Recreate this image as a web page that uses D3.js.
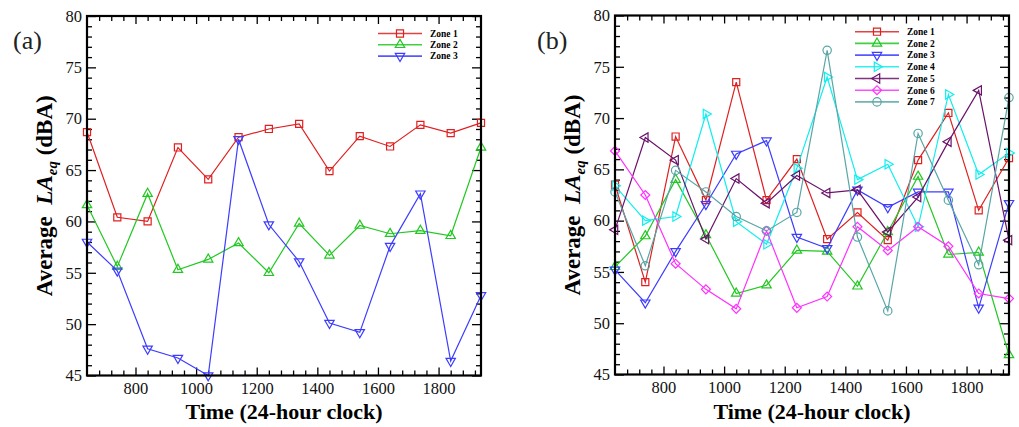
<!DOCTYPE html>
<html><head><meta charset="utf-8">
<script src="https://cdn.jsdelivr.net/npm/d3@7"></script>
<style>
html,body{margin:0;padding:0;background:#fff;}
svg{display:block;}
text{font-family:"Liberation Serif","Times New Roman",serif;}
</style></head>
<body>
<svg id="chart" width="1019" height="427"></svg>
<script>
// ---- data ----
const times = [640,740,840,940,1040,1140,1240,1340,1440,1540,1640,1740,1840,1940];
const xTickLabels = [800,1000,1200,1400,1600,1800];
const yTickLabels = [45,50,55,60,65,70,75,80];

// Panel (a)
const a_zone1 = [68.7,60.4,60.0,67.2,64.1,68.2,69.0,69.5,64.9,68.3,67.3,69.4,68.6,69.6];
const a_zone2 = [61.6,55.6,62.7,55.3,56.3,57.9,55.0,59.8,56.7,59.6,58.8,59.1,58.6,67.2];
const a_zone3 = [58.0,55.2,47.6,46.7,45.0,68.0,59.7,56.1,50.1,49.2,57.6,62.7,46.4,52.8];

// Panel (b)
const b_zone1 = [63.5,54.0,68.2,62.0,73.5,62.0,66.0,58.2,60.8,58.1,65.9,70.5,61.0,66.1];
const b_zone2 = [55.5,58.5,64.0,58.6,52.9,53.7,57.1,57.0,53.6,58.9,64.3,56.7,56.9,46.9];
const b_zone3 = [55.2,52.0,57.0,61.6,66.5,67.8,58.4,57.3,63.0,61.3,62.8,62.8,51.5,61.7];
const b_zone4 = [63.4,60.0,60.4,70.4,59.9,57.7,65.1,74.0,64.0,65.5,59.4,72.3,64.5,66.6];
const b_zone5 = [59.1,68.1,65.9,58.2,64.1,61.7,64.4,62.7,63.0,58.9,62.3,67.7,72.7,58.1];
const b_zone6 = [66.8,62.5,55.8,53.3,51.4,59.0,51.5,52.6,59.4,57.1,59.4,57.5,52.9,52.4];
const b_zone7 = [62.8,55.6,64.9,62.8,60.4,59.0,60.8,76.6,58.4,51.2,68.5,62.0,55.7,72.0];

const zoneNames = ["Zone 1","Zone 2","Zone 3","Zone 4","Zone 5","Zone 6","Zone 7"];
const zoneColors = ["#e02020","#22c822","#3c3cff","#10eeee","#6a126a","#ff30ff","#5aa6a6"];
const zoneMarkers = ["square","triUp","triDown","triRight","triLeft","diamond","circle"];

const svg = d3.select("#chart");

function markerPath(kind){
  switch(kind){
    case "square": return {d:d3.symbol(d3.symbolSquare, 50)(), rot:0};
    case "triUp": return {d:d3.symbol(d3.symbolTriangle, 38)(), rot:0};
    case "triDown": return {d:d3.symbol(d3.symbolTriangle, 38)(), rot:180};
    case "triRight": return {d:d3.symbol(d3.symbolTriangle, 38)(), rot:90};
    case "triLeft": return {d:d3.symbol(d3.symbolTriangle, 38)(), rot:-90};
    case "diamond": return {d:d3.symbol(d3.symbolSquare, 40)(), rot:45};
    case "circle": return {d:d3.symbol(d3.symbolCircle, 55)(), rot:0};
  }
}

function drawPanel(opts){
  const {left,right,top,bottom,series,label,legendX,legendY,legendStep,legendFont} = opts;
  const g = svg.append("g");
  const x = d3.scaleLinear().domain([640,1940]).range([left,right]);
  const y = d3.scaleLinear().domain([45,80]).range([bottom,top]);

  const xMinor = d3.range(680,1940,40).filter(v=>v%200!==0);
  const yMinor = d3.range(46,80,1).filter(v=>v%5!==0);

  g.append("g").attr("transform",`translate(0,${bottom})`)
    .call(d3.axisBottom(x).tickValues(xTickLabels).tickSize(-8).tickPadding(7).tickFormat(d3.format("d")));
  g.append("g").attr("transform",`translate(0,${bottom})`)
    .call(d3.axisBottom(x).tickValues(xMinor).tickSize(-5).tickFormat(""));
  g.append("g").attr("transform",`translate(0,${top})`)
    .call(d3.axisTop(x).tickValues(xTickLabels).tickSize(-8).tickFormat(""));
  g.append("g").attr("transform",`translate(0,${top})`)
    .call(d3.axisTop(x).tickValues(xMinor).tickSize(-5).tickFormat(""));
  g.append("g").attr("transform",`translate(${left},0)`)
    .call(d3.axisLeft(y).tickValues(yTickLabels).tickSize(-9).tickPadding(5).tickFormat(d3.format("d")));
  g.append("g").attr("transform",`translate(${left},0)`)
    .call(d3.axisLeft(y).tickValues(yMinor).tickSize(-5).tickFormat(""));
  g.append("g").attr("transform",`translate(${right},0)`)
    .call(d3.axisRight(y).tickValues(yTickLabels).tickSize(-9).tickFormat(""));
  g.append("g").attr("transform",`translate(${right},0)`)
    .call(d3.axisRight(y).tickValues(yMinor).tickSize(-5).tickFormat(""));

  g.selectAll(".domain").remove();
  g.selectAll(".tick line").attr("stroke","#000").attr("stroke-width",1.3);
  g.selectAll(".tick text").attr("font-size",16.5).attr("fill","#111")
    .attr("font-family","'Liberation Serif','Times New Roman',serif");

  const line = d3.line().x((d,i)=>x(times[i])).y(d=>y(d));
  series.forEach((vals,k)=>{
    const col = zoneColors[k];
    g.append("path").datum(vals).attr("d",line).attr("fill","none")
      .attr("stroke",col).attr("stroke-width",1.2);
    const m = markerPath(zoneMarkers[k]);
    g.selectAll(null).data(vals).enter().append("path")
      .attr("d",m.d)
      .attr("transform",(d,i)=>`translate(${x(times[i])},${y(d)}) rotate(${m.rot})`)
      .attr("fill","none").attr("stroke",col).attr("stroke-width",1.2);
  });

  g.append("rect").attr("x",left).attr("y",top).attr("width",right-left).attr("height",bottom-top)
    .attr("fill","none").attr("stroke","#000").attr("stroke-width",2.2);

  series.forEach((vals,k)=>{
    const ly = legendY + k*legendStep;
    const col = zoneColors[k];
    g.append("line").attr("x1",legendX).attr("x2",legendX+44).attr("y1",ly).attr("y2",ly)
      .attr("stroke",col).attr("stroke-width",1.6).attr("opacity",0.85);
    const m = markerPath(zoneMarkers[k]);
    g.append("path").attr("d",m.d)
      .attr("transform",`translate(${legendX+22},${ly}) rotate(${m.rot})`)
      .attr("fill","none").attr("stroke",col).attr("stroke-width",1.2);
    g.append("text").attr("x",legendX+52).attr("y",ly).attr("dy","0.35em")
      .attr("font-size",legendFont).attr("font-weight","bold").attr("fill","#000")
      .text(zoneNames[k]);
  });

  g.append("text").attr("x",opts.labelX).attr("y",49).attr("font-size",26).attr("fill","#222")
    .text(label);

  g.append("text").attr("x",(left+right)/2).attr("y",419).attr("text-anchor","middle")
    .attr("font-size",22).attr("font-weight","bold").attr("fill","#000")
    .text("Time (24-hour clock)");

  const yt = g.append("text").attr("transform",`translate(${left-35},${(top+bottom)/2}) rotate(-90)`)
    .attr("text-anchor","middle").attr("font-size",23).attr("font-weight","bold").attr("fill","#000");
  yt.append("tspan").text("Average\u00a0\u00a0");
  yt.append("tspan").attr("font-style","italic").text("LA");
  yt.append("tspan").attr("font-style","italic").attr("font-size",15).attr("dy",5).text("eq");
  yt.append("tspan").attr("dy",-5).text(" (dBA)");
}

drawPanel({left:87,right:481,top:16,bottom:375.5,
  series:[a_zone1,a_zone2,a_zone3],label:"(a)",labelX:13,
  legendX:378,legendY:33.5,legendStep:11.3,legendFont:9.5});
drawPanel({left:615,right:1009,top:15.5,bottom:374.5,
  series:[b_zone1,b_zone2,b_zone3,b_zone4,b_zone5,b_zone6,b_zone7],label:"(b)",labelX:537,
  legendX:855,legendY:31.7,legendStep:11.7,legendFont:9.5});
</script>
</body></html>
